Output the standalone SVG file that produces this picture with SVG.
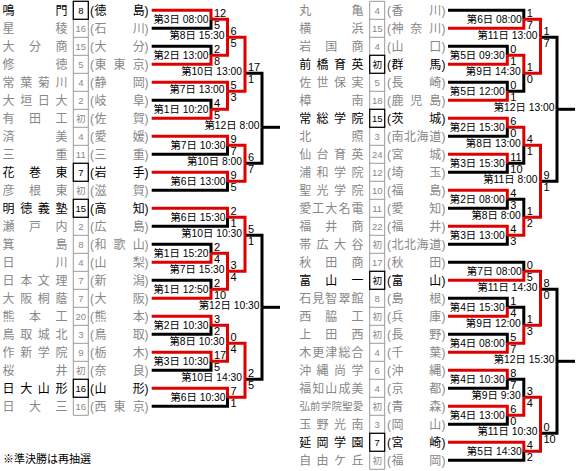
<svg xmlns="http://www.w3.org/2000/svg" width="578" height="471" viewBox="0 0 578 471">
<style>
.nm{font-family:"Noto Sans CJK JP",sans-serif;font-size:12px;fill:#888888}
.nm6{font-family:"Noto Sans CJK JP",sans-serif;font-size:10.5px;fill:#888888}
.pf{font-family:"Liberation Sans","Noto Sans CJK JP",sans-serif;font-size:12px;fill:#888888}
.num{font-family:"Liberation Sans","Noto Sans CJK JP",sans-serif;font-size:9.5px;fill:#888888;text-anchor:middle}
.q .nm,.q .pf,.q .num{fill:#000}
.lb{font-family:"Liberation Sans","Noto Sans CJK JP",sans-serif;font-size:10.3px;text-anchor:end;fill:#000}
.sc{font-family:"Liberation Sans",sans-serif;font-size:11px;fill:#000}
.k{fill:none;stroke:#000;stroke-width:3}
.r{fill:none;stroke:#e00000;stroke-width:3}
.bx{fill:none;stroke:#000;stroke-width:1.2}
.grid{fill:none;stroke:#9a9a9a;stroke-width:1}
.note{font-family:"Noto Sans CJK JP",sans-serif;font-size:11px;fill:#000}
</style>
<g id="cells">
<path class="grid" d="M73.3 1.3V415.3M88.3 1.3V415.3M73.3 1.3H88.3M73.3 19.3H88.3M73.3 37.3H88.3M73.3 55.3H88.3M73.3 73.3H88.3M73.3 91.3H88.3M73.3 109.3H88.3M73.3 127.3H88.3M73.3 145.3H88.3M73.3 163.3H88.3M73.3 181.3H88.3M73.3 199.3H88.3M73.3 217.3H88.3M73.3 235.3H88.3M73.3 253.3H88.3M73.3 271.3H88.3M73.3 289.3H88.3M73.3 307.3H88.3M73.3 325.3H88.3M73.3 343.3H88.3M73.3 361.3H88.3M73.3 379.3H88.3M73.3 397.3H88.3M73.3 415.3H88.3"/>
<path class="grid" d="M369.7 1.3V469.3M384.7 1.3V469.3M369.7 1.3H384.7M369.7 19.3H384.7M369.7 37.3H384.7M369.7 55.3H384.7M369.7 73.3H384.7M369.7 91.3H384.7M369.7 109.3H384.7M369.7 127.3H384.7M369.7 145.3H384.7M369.7 163.3H384.7M369.7 181.3H384.7M369.7 199.3H384.7M369.7 217.3H384.7M369.7 235.3H384.7M369.7 253.3H384.7M369.7 271.3H384.7M369.7 289.3H384.7M369.7 307.3H384.7M369.7 325.3H384.7M369.7 343.3H384.7M369.7 361.3H384.7M369.7 379.3H384.7M369.7 397.3H384.7M369.7 415.3H384.7M369.7 433.3H384.7M369.7 451.3H384.7M369.7 469.3H384.7"/>
</g>
<g id="teams-left">
<g id="team-L0" class="q"><rect class="bx" x="73.3" y="1.3" width="15" height="18"/><text class="nm" x="2.5 55.5" y="14.8">鳴門</text><text class="num" x="80.8" y="13.8">8</text><text class="pf" x="90 94.5 132.8 144.5" y="14.8">(徳島)</text></g>
<g id="team-L1"><text class="nm" x="2.5 55.5" y="32.8">星稜</text><text class="num" x="80.8" y="31.8">16</text><text class="pf" x="90 94.5 132.8 144.5" y="32.8">(石川)</text></g>
<g id="team-L2"><text class="nm" x="2.5 29 55.5" y="50.8">大分商</text><text class="num" x="80.8" y="49.8">15</text><text class="pf" x="90 94.5 132.8 144.5" y="50.8">(大分)</text></g>
<g id="team-L3"><text class="nm" x="2.5 55.5" y="68.8">修徳</text><text class="num" x="80.8" y="67.8">5</text><text class="pf" x="90 94.5 113.6 132.8 144.5" y="68.8">(東東京)</text></g>
<g id="team-L4"><text class="nm" x="2.5 20.2 37.8 55.5" y="86.8">常葉菊川</text><text class="num" x="80.8" y="85.8">4</text><text class="pf" x="90 94.5 132.8 144.5" y="86.8">(静岡)</text></g>
<g id="team-L5"><text class="nm" x="2.5 20.2 37.8 55.5" y="104.8">大垣日大</text><text class="num" x="80.8" y="103.8">2</text><text class="pf" x="90 94.5 132.8 144.5" y="104.8">(岐阜)</text></g>
<g id="team-L6"><text class="nm" x="2.5 29 55.5" y="122.8">有田工</text><text class="num" x="80.8" y="121.8">初</text><text class="pf" x="90 94.5 132.8 144.5" y="122.8">(佐賀)</text></g>
<g id="team-L7"><text class="nm" x="2.5 55.5" y="140.8">済美</text><text class="num" x="80.8" y="139.8">4</text><text class="pf" x="90 94.5 132.8 144.5" y="140.8">(愛媛)</text></g>
<g id="team-L8"><text class="nm" x="2.5 55.5" y="158.8">三重</text><text class="num" x="80.8" y="157.8">11</text><text class="pf" x="90 94.5 132.8 144.5" y="158.8">(三重)</text></g>
<g id="team-L9" class="q"><rect class="bx" x="73.3" y="163.3" width="15" height="18"/><text class="nm" x="2.5 29 55.5" y="176.8">花巻東</text><text class="num" x="80.8" y="175.8">7</text><text class="pf" x="90 94.5 132.8 144.5" y="176.8">(岩手)</text></g>
<g id="team-L10"><text class="nm" x="2.5 29 55.5" y="194.8">彦根東</text><text class="num" x="80.8" y="193.8">初</text><text class="pf" x="90 94.5 132.8 144.5" y="194.8">(滋賀)</text></g>
<g id="team-L11" class="q"><rect class="bx" x="73.3" y="199.3" width="15" height="18"/><text class="nm" x="2.5 20.2 37.8 55.5" y="212.8">明徳義塾</text><text class="num" x="80.8" y="211.8">15</text><text class="pf" x="90 94.5 132.8 144.5" y="212.8">(高知)</text></g>
<g id="team-L12"><text class="nm" x="2.5 29 55.5" y="230.8">瀬戸内</text><text class="num" x="80.8" y="229.8">2</text><text class="pf" x="90 94.5 132.8 144.5" y="230.8">(広島)</text></g>
<g id="team-L13"><text class="nm" x="2.5 55.5" y="248.8">箕島</text><text class="num" x="80.8" y="247.8">8</text><text class="pf" x="90 94.5 113.6 132.8 144.5" y="248.8">(和歌山)</text></g>
<g id="team-L14"><text class="nm" x="2.5 55.5" y="266.8">日川</text><text class="num" x="80.8" y="265.8">4</text><text class="pf" x="90 94.5 132.8 144.5" y="266.8">(山梨)</text></g>
<g id="team-L15"><text class="nm" x="2.5 20.2 37.8 55.5" y="284.8">日本文理</text><text class="num" x="80.8" y="283.8">7</text><text class="pf" x="90 94.5 132.8 144.5" y="284.8">(新潟)</text></g>
<g id="team-L16"><text class="nm" x="2.5 20.2 37.8 55.5" y="302.8">大阪桐蔭</text><text class="num" x="80.8" y="301.8">7</text><text class="pf" x="90 94.5 132.8 144.5" y="302.8">(大阪)</text></g>
<g id="team-L17"><text class="nm" x="2.5 29 55.5" y="320.8">熊本工</text><text class="num" x="80.8" y="319.8">20</text><text class="pf" x="90 94.5 132.8 144.5" y="320.8">(熊本)</text></g>
<g id="team-L18"><text class="nm" x="2.5 20.2 37.8 55.5" y="338.8">鳥取城北</text><text class="num" x="80.8" y="337.8">3</text><text class="pf" x="90 94.5 132.8 144.5" y="338.8">(鳥取)</text></g>
<g id="team-L19"><text class="nm" x="2.5 20.2 37.8 55.5" y="356.8">作新学院</text><text class="num" x="80.8" y="355.8">9</text><text class="pf" x="90 94.5 132.8 144.5" y="356.8">(栃木)</text></g>
<g id="team-L20"><text class="nm" x="2.5 55.5" y="374.8">桜井</text><text class="num" x="80.8" y="373.8">初</text><text class="pf" x="90 94.5 132.8 144.5" y="374.8">(奈良)</text></g>
<g id="team-L21" class="q"><rect class="bx" x="73.3" y="379.3" width="15" height="18"/><text class="nm" x="2.5 20.2 37.8 55.5" y="392.8">日大山形</text><text class="num" x="80.8" y="391.8">16</text><text class="pf" x="90 94.5 132.8 144.5" y="392.8">(山形)</text></g>
<g id="team-L22"><text class="nm" x="2.5 29 55.5" y="410.8">日大三</text><text class="num" x="80.8" y="409.8">16</text><text class="pf" x="90 94.5 113.6 132.8 144.5" y="410.8">(西東京)</text></g>
</g>
<g id="teams-right">
<g id="team-R0"><text class="nm" x="299.2 351.5" y="14.8">丸亀</text><text class="num" x="377.2" y="13.8">4</text><text class="pf" x="387 391.5 429.2 441.5" y="14.8">(香川)</text></g>
<g id="team-R1"><text class="nm" x="299.2 351.5" y="32.8">横浜</text><text class="num" x="377.2" y="31.8">15</text><text class="pf" x="387 391.5 410.3 429.2 441.5" y="32.8">(神奈川)</text></g>
<g id="team-R2"><text class="nm" x="299.2 325.3 351.5" y="50.8">岩国商</text><text class="num" x="377.2" y="49.8">4</text><text class="pf" x="387 391.5 429.2 441.5" y="50.8">(山口)</text></g>
<g id="team-R3" class="q"><rect class="bx" x="369.7" y="55.3" width="15" height="18"/><text class="nm" x="299.2 316.6 334.1 351.5" y="68.8">前橋育英</text><text class="num" x="377.2" y="67.8">初</text><text class="pf" x="387 391.5 429.2 441.5" y="68.8">(群馬)</text></g>
<g id="team-R4"><text class="nm" x="299.2 316.6 334.1 351.5" y="86.8">佐世保実</text><text class="num" x="377.2" y="85.8">5</text><text class="pf" x="387 391.5 429.2 441.5" y="86.8">(長崎)</text></g>
<g id="team-R5"><text class="nm" x="299.2 351.5" y="104.8">樟南</text><text class="num" x="377.2" y="103.8">18</text><text class="pf" x="387 391.5 410.3 429.2 441.5" y="104.8">(鹿児島)</text></g>
<g id="team-R6" class="q"><rect class="bx" x="369.7" y="109.3" width="15" height="18"/><text class="nm" x="299.2 316.6 334.1 351.5" y="122.8">常総学院</text><text class="num" x="377.2" y="121.8">15</text><text class="pf" x="387 391.5 429.2 441.5" y="122.8">(茨城)</text></g>
<g id="team-R7"><text class="nm" x="299.2 351.5" y="140.8">北照</text><text class="num" x="377.2" y="139.8">3</text><text class="pf" x="387 391.5 404.1 416.6 429.2 441.5" y="140.8">(南北海道)</text></g>
<g id="team-R8"><text class="nm" x="299.2 316.6 334.1 351.5" y="158.8">仙台育英</text><text class="num" x="377.2" y="157.8">24</text><text class="pf" x="387 391.5 429.2 441.5" y="158.8">(宮城)</text></g>
<g id="team-R9"><text class="nm" x="299.2 316.6 334.1 351.5" y="176.8">浦和学院</text><text class="num" x="377.2" y="175.8">12</text><text class="pf" x="387 391.5 429.2 441.5" y="176.8">(埼玉)</text></g>
<g id="team-R10"><text class="nm" x="299.2 316.6 334.1 351.5" y="194.8">聖光学院</text><text class="num" x="377.2" y="193.8">10</text><text class="pf" x="387 391.5 429.2 441.5" y="194.8">(福島)</text></g>
<g id="team-R11"><text class="nm" x="299.2 312.3 325.3 338.4 351.5" y="212.8">愛工大名電</text><text class="num" x="377.2" y="211.8">11</text><text class="pf" x="387 391.5 429.2 441.5" y="212.8">(愛知)</text></g>
<g id="team-R12"><text class="nm" x="299.2 325.3 351.5" y="230.8">福井商</text><text class="num" x="377.2" y="229.8">22</text><text class="pf" x="387 391.5 429.2 441.5" y="230.8">(福井)</text></g>
<g id="team-R13"><text class="nm" x="299.2 316.6 334.1 351.5" y="248.8">帯広大谷</text><text class="num" x="377.2" y="247.8">初</text><text class="pf" x="387 391.5 404.1 416.6 429.2 441.5" y="248.8">(北北海道)</text></g>
<g id="team-R14"><text class="nm" x="299.2 325.3 351.5" y="266.8">秋田商</text><text class="num" x="377.2" y="265.8">17</text><text class="pf" x="387 391.5 429.2 441.5" y="266.8">(秋田)</text></g>
<g id="team-R15" class="q"><rect class="bx" x="369.7" y="271.3" width="15" height="18"/><text class="nm" x="299.2 325.3 351.5" y="284.8">富山一</text><text class="num" x="377.2" y="283.8">初</text><text class="pf" x="387 391.5 429.2 441.5" y="284.8">(富山)</text></g>
<g id="team-R16"><text class="nm" x="299.2 312.3 325.3 338.4 351.5" y="302.8">石見智翠館</text><text class="num" x="377.2" y="301.8">8</text><text class="pf" x="387 391.5 429.2 441.5" y="302.8">(島根)</text></g>
<g id="team-R17"><text class="nm" x="299.2 325.3 351.5" y="320.8">西脇工</text><text class="num" x="377.2" y="319.8">初</text><text class="pf" x="387 391.5 429.2 441.5" y="320.8">(兵庫)</text></g>
<g id="team-R18"><text class="nm" x="299.2 325.3 351.5" y="338.8">上田西</text><text class="num" x="377.2" y="337.8">初</text><text class="pf" x="387 391.5 429.2 441.5" y="338.8">(長野)</text></g>
<g id="team-R19"><text class="nm" x="299.2 312.3 325.3 338.4 351.5" y="356.8">木更津総合</text><text class="num" x="377.2" y="355.8">4</text><text class="pf" x="387 391.5 429.2 441.5" y="356.8">(千葉)</text></g>
<g id="team-R20"><text class="nm" x="299.2 316.6 334.1 351.5" y="374.8">沖縄尚学</text><text class="num" x="377.2" y="373.8">6</text><text class="pf" x="387 391.5 429.2 441.5" y="374.8">(沖縄)</text></g>
<g id="team-R21"><text class="nm" x="299.2 312.3 325.3 338.4 351.5" y="392.8">福知山成美</text><text class="num" x="377.2" y="391.8">4</text><text class="pf" x="387 391.5 429.2 441.5" y="392.8">(京都)</text></g>
<g id="team-R22"><text class="nm6" x="299.5 310.1 320.8 331.4 342.1 352.7" y="410.3">弘前学院聖愛</text><text class="num" x="377.2" y="409.8">初</text><text class="pf" x="387 391.5 429.2 441.5" y="410.8">(青森)</text></g>
<g id="team-R23"><text class="nm" x="299.2 316.6 334.1 351.5" y="428.8">玉野光南</text><text class="num" x="377.2" y="427.8">3</text><text class="pf" x="387 391.5 429.2 441.5" y="428.8">(岡山)</text></g>
<g id="team-R24" class="q"><rect class="bx" x="369.7" y="433.3" width="15" height="18"/><text class="nm" x="299.2 316.6 334.1 351.5" y="446.8">延岡学園</text><text class="num" x="377.2" y="445.8">7</text><text class="pf" x="387 391.5 429.2 441.5" y="446.8">(宮崎)</text></g>
<g id="team-R25"><text class="nm" x="299.2 316.6 334.1 351.5" y="464.8">自由ケ丘</text><text class="num" x="377.2" y="463.8">初</text><text class="pf" x="387 391.5 429.2 441.5" y="464.8">(福岡)</text></g>
</g>
<g id="connectors">
<g id="lines-black" class="k">
<polyline points="151.7,28.3 211,28.3 211,19.3"/>
<polyline points="151.7,46.3 211,46.3 211,55.3"/>
<polyline points="151.7,100.3 211,100.3 211,109.3"/>
<polyline points="151.7,154.3 227.5,154.3 227.5,145.3"/>
<polyline points="151.7,190.3 227.5,190.3 227.5,181.3"/>
<polyline points="245,73.3 262,73.3 262,127.3"/>
<polyline points="245,163.3 262,163.3 262,127.3"/>
<polyline points="262,127.3 280,127.3"/>
<polyline points="151.7,226.3 227.5,226.3 227.5,217.3"/>
<polyline points="151.7,244.3 211,244.3 211,253.3"/>
<polyline points="151.7,280.3 211,280.3 211,289.3"/>
<polyline points="151.7,334.3 211,334.3 211,325.3"/>
<polyline points="151.7,370.3 211,370.3 211,361.3"/>
<polyline points="151.7,406.3 227.5,406.3 227.5,397.3"/>
<polyline points="245,235.3 262,235.3 262,307.3"/>
<polyline points="245,379.3 262,379.3 262,307.3"/>
<polyline points="262,307.3 280,307.3"/>
<polyline points="448,10.3 523.8,10.3 523.8,19.3"/>
<polyline points="448,46.3 507.3,46.3 507.3,55.3"/>
<polyline points="448,82.3 507.3,82.3 507.3,91.3"/>
<polyline points="507.3,91.3 523.8,91.3 523.8,73.3"/>
<polyline points="448,136.3 507.3,136.3 507.3,127.3"/>
<polyline points="448,172.3 507.3,172.3 507.3,163.3"/>
<polyline points="507.3,163.3 523.8,163.3 523.8,145.3"/>
<polyline points="448,208.3 507.3,208.3 507.3,199.3"/>
<polyline points="448,244.3 507.3,244.3 507.3,235.3"/>
<polyline points="507.3,199.3 523.8,199.3 523.8,217.3"/>
<polyline points="540.5,37.3 557,37.3 557,109.3"/>
<polyline points="540.5,181.3 557,181.3 557,109.3"/>
<polyline points="557,109.3 575,109.3"/>
<polyline points="448,262.3 523.8,262.3 523.8,271.3"/>
<polyline points="448,298.3 507.3,298.3 507.3,307.3"/>
<polyline points="448,334.3 507.3,334.3 507.3,343.3"/>
<polyline points="507.3,307.3 523.8,307.3 523.8,325.3"/>
<polyline points="448,388.3 507.3,388.3 507.3,379.3"/>
<polyline points="448,424.3 507.3,424.3 507.3,415.3"/>
<polyline points="507.3,379.3 523.8,379.3 523.8,397.3"/>
<polyline points="448,460.3 523.8,460.3 523.8,451.3"/>
<polyline points="540.5,289.3 557,289.3 557,361.3"/>
<polyline points="540.5,433.3 557,433.3 557,361.3"/>
<polyline points="557,361.3 575,361.3"/>
</g>
<g id="lines-red" class="r">
<polyline points="151.7,10.3 211,10.3 211,19.3"/>
<polyline points="151.7,64.3 211,64.3 211,55.3"/>
<polyline points="211,19.3 227.5,19.3 227.5,37.3"/>
<polyline points="211,55.3 227.5,55.3 227.5,37.3"/>
<polyline points="151.7,118.3 211,118.3 211,109.3"/>
<polyline points="151.7,82.3 227.5,82.3 227.5,91.3"/>
<polyline points="211,109.3 227.5,109.3 227.5,91.3"/>
<polyline points="227.5,37.3 245,37.3 245,73.3"/>
<polyline points="227.5,91.3 245,91.3 245,73.3"/>
<polyline points="151.7,136.3 227.5,136.3 227.5,145.3"/>
<polyline points="151.7,172.3 227.5,172.3 227.5,181.3"/>
<polyline points="227.5,145.3 245,145.3 245,163.3"/>
<polyline points="227.5,181.3 245,181.3 245,163.3"/>
<polyline points="151.7,208.3 227.5,208.3 227.5,217.3"/>
<polyline points="151.7,262.3 211,262.3 211,253.3"/>
<polyline points="151.7,298.3 211,298.3 211,289.3"/>
<polyline points="211,253.3 227.5,253.3 227.5,271.3"/>
<polyline points="211,289.3 227.5,289.3 227.5,271.3"/>
<polyline points="227.5,217.3 245,217.3 245,235.3"/>
<polyline points="227.5,271.3 245,271.3 245,235.3"/>
<polyline points="151.7,316.3 211,316.3 211,325.3"/>
<polyline points="151.7,352.3 211,352.3 211,361.3"/>
<polyline points="211,325.3 227.5,325.3 227.5,343.3"/>
<polyline points="211,361.3 227.5,361.3 227.5,343.3"/>
<polyline points="151.7,388.3 227.5,388.3 227.5,397.3"/>
<polyline points="227.5,343.3 245,343.3 245,379.3"/>
<polyline points="227.5,397.3 245,397.3 245,379.3"/>
<polyline points="448,28.3 523.8,28.3 523.8,19.3"/>
<polyline points="448,64.3 507.3,64.3 507.3,55.3"/>
<polyline points="448,100.3 507.3,100.3 507.3,91.3"/>
<polyline points="507.3,55.3 523.8,55.3 523.8,73.3"/>
<polyline points="523.8,19.3 540.5,19.3 540.5,37.3"/>
<polyline points="523.8,73.3 540.5,73.3 540.5,37.3"/>
<polyline points="448,118.3 507.3,118.3 507.3,127.3"/>
<polyline points="448,154.3 507.3,154.3 507.3,163.3"/>
<polyline points="507.3,127.3 523.8,127.3 523.8,145.3"/>
<polyline points="448,190.3 507.3,190.3 507.3,199.3"/>
<polyline points="448,226.3 507.3,226.3 507.3,235.3"/>
<polyline points="507.3,235.3 523.8,235.3 523.8,217.3"/>
<polyline points="523.8,145.3 540.5,145.3 540.5,181.3"/>
<polyline points="523.8,217.3 540.5,217.3 540.5,181.3"/>
<polyline points="448,280.3 523.8,280.3 523.8,271.3"/>
<polyline points="448,316.3 507.3,316.3 507.3,307.3"/>
<polyline points="448,352.3 507.3,352.3 507.3,343.3"/>
<polyline points="507.3,343.3 523.8,343.3 523.8,325.3"/>
<polyline points="523.8,271.3 540.5,271.3 540.5,289.3"/>
<polyline points="523.8,325.3 540.5,325.3 540.5,289.3"/>
<polyline points="448,370.3 507.3,370.3 507.3,379.3"/>
<polyline points="448,406.3 507.3,406.3 507.3,415.3"/>
<polyline points="507.3,415.3 523.8,415.3 523.8,397.3"/>
<polyline points="448,442.3 523.8,442.3 523.8,451.3"/>
<polyline points="523.8,397.3 540.5,397.3 540.5,433.3"/>
<polyline points="523.8,451.3 540.5,451.3 540.5,433.3"/>
</g>
</g>
<g id="matches-left">
<g id="m-L1"><text class="lb" x="208.5" y="22.8">第3日 08:00</text><text class="sc" x="214" y="16.8">12</text><text class="sc" x="214" y="28.8">5</text></g>
<g id="m-L2"><text class="lb" x="208.5" y="58.8">第2日 13:00</text><text class="sc" x="214" y="52.8">2</text><text class="sc" x="214" y="64.8">8</text></g>
<g id="m-L3"><text class="lb" x="224.5" y="39.3">第8日 15:30</text><text class="sc" x="230.5" y="34.8">6</text><text class="sc" x="230.5" y="46.8">5</text></g>
<g id="m-L4"><text class="lb" x="208.5" y="112.8">第1日 10:20</text><text class="sc" x="214" y="106.8">4</text><text class="sc" x="214" y="118.8">5</text></g>
<g id="m-L5"><text class="lb" x="224.5" y="93.3">第7日 13:00</text><text class="sc" x="230.5" y="88.8">5</text><text class="sc" x="230.5" y="100.8">3</text></g>
<g id="m-L6"><text class="lb" x="242" y="75.3">第10日 13:00</text><text class="sc" x="248" y="70.8">17</text><text class="sc" x="248" y="82.8">1</text></g>
<g id="m-L7"><text class="lb" x="225.5" y="148.8">第7日 10:30</text><text class="sc" x="230.5" y="142.8">9</text><text class="sc" x="230.5" y="154.8">7</text></g>
<g id="m-L8"><text class="lb" x="225.5" y="184.8">第6日 13:00</text><text class="sc" x="230.5" y="178.8">9</text><text class="sc" x="230.5" y="190.8">5</text></g>
<g id="m-L9"><text class="lb" x="242" y="165.3">第10日 8:00</text><text class="sc" x="248" y="160.8">6</text><text class="sc" x="248" y="172.8">7</text></g>
<g id="m-L10"><text class="lb" x="259.5" y="129.3">第12日 8:00</text></g>
<g id="m-L11"><text class="lb" x="225.5" y="220.8">第6日 15:30</text><text class="sc" x="230.5" y="214.8">2</text><text class="sc" x="230.5" y="226.8">1</text></g>
<g id="m-L12"><text class="lb" x="208.5" y="256.8">第1日 15:20</text><text class="sc" x="214" y="250.8">2</text><text class="sc" x="214" y="262.8">4</text></g>
<g id="m-L13"><text class="lb" x="208.5" y="292.8">第1日 12:50</text><text class="sc" x="214" y="286.8">2</text><text class="sc" x="214" y="298.8">10</text></g>
<g id="m-L14"><text class="lb" x="224.5" y="273.3">第7日 15:30</text><text class="sc" x="230.5" y="268.8">3</text><text class="sc" x="230.5" y="280.8">4</text></g>
<g id="m-L15"><text class="lb" x="242" y="237.3">第10日 10:30</text><text class="sc" x="248" y="232.8">5</text><text class="sc" x="248" y="244.8">1</text></g>
<g id="m-L16"><text class="lb" x="208.5" y="328.8">第2日 10:30</text><text class="sc" x="214" y="322.8">3</text><text class="sc" x="214" y="334.8">2</text></g>
<g id="m-L17"><text class="lb" x="208.5" y="364.8">第3日 10:30</text><text class="sc" x="214" y="358.8">17</text><text class="sc" x="214" y="370.8">5</text></g>
<g id="m-L18"><text class="lb" x="224.5" y="345.3">第8日 10:30</text><text class="sc" x="230.5" y="340.8">0</text><text class="sc" x="230.5" y="352.8">4</text></g>
<g id="m-L19"><text class="lb" x="225.5" y="400.8">第6日 10:30</text><text class="sc" x="230.5" y="394.8">7</text><text class="sc" x="230.5" y="406.8">1</text></g>
<g id="m-L20"><text class="lb" x="242" y="381.3">第10日 14:30</text><text class="sc" x="248" y="376.8">2</text><text class="sc" x="248" y="388.8">5</text></g>
<g id="m-L21"><text class="lb" x="259.5" y="309.3">第12日 10:30</text></g>
</g>
<g id="matches-right">
<g id="m-R1"><text class="lb" x="521.8" y="22.8">第6日 08:00</text><text class="sc" x="526.8" y="16.8">1</text><text class="sc" x="526.8" y="28.8">7</text></g>
<g id="m-R2"><text class="lb" x="504.8" y="58.8">第5日 09:30</text><text class="sc" x="510.3" y="52.8">0</text><text class="sc" x="510.3" y="64.8">1</text></g>
<g id="m-R3"><text class="lb" x="504.8" y="94.8">第5日 12:00</text><text class="sc" x="510.3" y="88.8">0</text><text class="sc" x="510.3" y="100.8">1</text></g>
<g id="m-R4"><text class="lb" x="520.8" y="75.3">第9日 14:30</text><text class="sc" x="526.8" y="70.8">1</text><text class="sc" x="526.8" y="82.8">0</text></g>
<g id="m-R5"><text class="lb" x="537.5" y="39.3">第11日 13:00</text><text class="sc" x="543.5" y="34.8">1</text><text class="sc" x="543.5" y="46.8">7</text></g>
<g id="m-R6"><text class="lb" x="504.8" y="130.8">第2日 15:30</text><text class="sc" x="510.3" y="124.8">6</text><text class="sc" x="510.3" y="136.8">0</text></g>
<g id="m-R7"><text class="lb" x="504.8" y="166.8">第3日 15:30</text><text class="sc" x="510.3" y="160.8">11</text><text class="sc" x="510.3" y="172.8">10</text></g>
<g id="m-R8"><text class="lb" x="520.8" y="147.3">第8日 13:00</text><text class="sc" x="526.8" y="142.8">4</text><text class="sc" x="526.8" y="154.8">1</text></g>
<g id="m-R9"><text class="lb" x="504.8" y="202.8">第2日 08:00</text><text class="sc" x="510.3" y="196.8">4</text><text class="sc" x="510.3" y="208.8">3</text></g>
<g id="m-R10"><text class="lb" x="504.8" y="238.8">第3日 13:00</text><text class="sc" x="510.3" y="232.8">4</text><text class="sc" x="510.3" y="244.8">3</text></g>
<g id="m-R11"><text class="lb" x="520.8" y="219.3">第8日 8:00</text><text class="sc" x="526.8" y="214.8">1</text><text class="sc" x="526.8" y="226.8">2</text></g>
<g id="m-R12"><text class="lb" x="537.5" y="183.3">第11日 8:00</text><text class="sc" x="543.5" y="178.8">9</text><text class="sc" x="543.5" y="190.8">1</text></g>
<g id="m-R13"><text class="lb" x="554.5" y="111.3">第12日 13:00</text></g>
<g id="m-R14"><text class="lb" x="521.8" y="274.8">第7日 08:00</text><text class="sc" x="526.8" y="268.8">0</text><text class="sc" x="526.8" y="280.8">5</text></g>
<g id="m-R15"><text class="lb" x="504.8" y="310.8">第4日 15:30</text><text class="sc" x="510.3" y="304.8">1</text><text class="sc" x="510.3" y="316.8">4</text></g>
<g id="m-R16"><text class="lb" x="504.8" y="346.8">第4日 08:00</text><text class="sc" x="510.3" y="340.8">5</text><text class="sc" x="510.3" y="352.8">7</text></g>
<g id="m-R17"><text class="lb" x="520.8" y="327.3">第9日 12:00</text><text class="sc" x="526.8" y="322.8">1</text><text class="sc" x="526.8" y="334.8">3</text></g>
<g id="m-R18"><text class="lb" x="537.5" y="291.3">第11日 14:30</text><text class="sc" x="543.5" y="286.8">8</text><text class="sc" x="543.5" y="298.8">0</text></g>
<g id="m-R19"><text class="lb" x="504.8" y="382.8">第4日 10:30</text><text class="sc" x="510.3" y="376.8">8</text><text class="sc" x="510.3" y="388.8">7</text></g>
<g id="m-R20"><text class="lb" x="504.8" y="418.8">第4日 13:00</text><text class="sc" x="510.3" y="412.8">6</text><text class="sc" x="510.3" y="424.8">0</text></g>
<g id="m-R21"><text class="lb" x="520.8" y="399.3">第9日 9:30</text><text class="sc" x="526.8" y="394.8">3</text><text class="sc" x="526.8" y="406.8">4</text></g>
<g id="m-R22"><text class="lb" x="521.8" y="454.8">第5日 14:30</text><text class="sc" x="526.8" y="448.8">4</text><text class="sc" x="526.8" y="460.8">2</text></g>
<g id="m-R23"><text class="lb" x="537.5" y="435.3">第11日 10:30</text><text class="sc" x="543.5" y="430.8">0</text><text class="sc" x="543.5" y="442.8">10</text></g>
<g id="m-R24"><text class="lb" x="554.5" y="363.3">第12日 15:30</text></g>
</g>
<text id="note" class="note" x="3" y="463">※準決勝は再抽選</text>
</svg>
